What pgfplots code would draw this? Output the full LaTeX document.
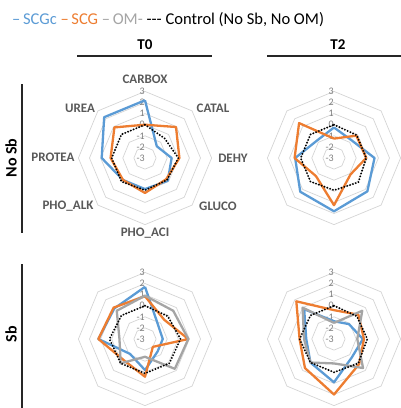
\documentclass[border=0pt]{standalone}
\usepackage{pgfplots}
\pgfplotsset{compat=1.18}
\usepackage{pgfplotstable}
\usepackage{fontspec}
\setmainfont{Carlito}
\definecolor{cblue}{HTML}{5B9BD5}
\definecolor{corange}{HTML}{ED7D31}
\definecolor{cgray}{HTML}{A5A5A5}
\definecolor{gridc}{HTML}{D4D4D4}
\definecolor{labc}{HTML}{595959}
\definecolor{tickc}{HTML}{7F7F7F}

% angle: 0 CARBOX, 45 CATAL, 90 DEHY, 135 GLUCO, 180 PHO_ACI, 225 PHO_ALK, 270 PROTEA, 315 UREA
\pgfplotstableread{
a scgc scg ctl
0 2.2 0.0 0.0
45 -1.5 0.95 -0.5
90 -0.6 0.1 0.0
135 -0.1 -0.3 -0.2
180 -0.2 0.15 -0.1
225 -0.2 -0.2 0.0
270 0.9 0.1 0.0
315 2.2 0.9 0.0
360 2.2 0.0 0.0
}\tTL
\pgfplotstableread{
a scgc scg ctl
0 -0.25 -1.25 0.0
45 -0.75 -0.15 -0.1
90 0.65 -0.1 -0.1
135 1.25 -0.9 0.1
180 1.8 1.25 -0.1
225 1.3 -0.7 0.0
270 0.5 0.55 0.0
315 -0.8 1.45 0.0
360 -0.25 -1.25 0.0
}\tTR
\pgfplotstableread{
a scgc scg om ctl
0 1.7 0.85 0.9 0.0
45 -1.3 -0.55 0.6 -0.1
90 -1.4 0.9 0.9 0.2
135 -1.4 -2.0 0.8 0.1
180 -0.2 0.4 -1.4 0.1
225 -1.1 -0.3 0.1 0.1
270 1.2 1.2 -0.7 0.2
315 0.9 1.0 0.6 0.0
360 1.7 0.85 0.9 0.0
}\tBL
\pgfplotstableread{
a scgc scg om ctl
0 -1.4 -0.4 -1.55 0.0
45 -1.1 0.1 0.6 -0.1
90 -0.4 -0.3 -0.9 0.0
135 -0.7 0.2 0.7 0.1
180 0.9 2.0 -0.8 0.0
225 0.0 0.7 0.0 0.0
270 -0.5 0.1 -0.3 0.1
315 0.8 1.8 1.0 0.0
360 -1.4 -0.4 -1.55 0.0
}\tBR
\pgfplotstableread{
a b
0 0
45 0
90 0
135 0
180 0
225 0
270 0
315 0
360 0
}\octa

\newcommand{\ring}[3]{\addplot[gridc, line width=0.7pt] table[x expr={#1+#3*11.1*sin(\thisrow{a})}, y expr={#2-#3*11.1*cos(\thisrow{a})}]{\octa};}
\newcommand{\rings}[2]{\ring{#1}{#2}{1}\ring{#1}{#2}{2}\ring{#1}{#2}{3}\ring{#1}{#2}{4}\ring{#1}{#2}{5}\ring{#1}{#2}{6}}
\newcommand{\series}[5]{\addplot[#5] table[x expr={#2+(\thisrow{#4}+3)*11.1*sin(\thisrow{a})}, y expr={#3-(\thisrow{#4}+3)*11.1*cos(\thisrow{a})}]{#1};}
\newcommand{\ticks}[2]{%
\node[tick] at (axis cs:#1,#2) [yshift=0pt] {-3};
\node[tick] at (axis cs:#1,#2) [yshift=11.1pt] {-2};
\node[tick] at (axis cs:#1,#2) [yshift=22.2pt] {-1};
\node[tick] at (axis cs:#1,#2) [yshift=33.3pt] {0};
\node[tick] at (axis cs:#1,#2) [yshift=44.4pt] {1};
\node[tick] at (axis cs:#1,#2) [yshift=55.5pt] {2};
\node[tick] at (axis cs:#1,#2) [yshift=66.6pt] {3};}

\tikzset{
 tick/.style={anchor=east, xshift=0pt, inner sep=0pt, text=tickc, font=\fontsize{10}{11}\selectfont},
 cat/.style={text=labc, font=\bfseries\fontsize{13}{14}\selectfont, inner sep=0pt},
 sb/.style={cblue, line width=2.3pt, line join=round},
 sg/.style={corange, line width=2.3pt, line join=round},
 so/.style={cgray, line width=2.3pt, line join=round},
 sc/.style={black, line width=2.1pt, dash pattern=on 0pt off 3pt, line cap=round},
}

\begin{document}
\begin{tikzpicture}
\useasboundingbox (0,0) rectangle (401pt,-408pt);
\begin{axis}[at={(0,0)}, anchor=north west, x=1pt, y=1pt, xmin=0, xmax=401, ymin=0, ymax=408, y dir=reverse, hide axis, clip=false]
% grids
\rings{145}{158}
\rings{334}{158}
\rings{145}{339}
\rings{334}{339}
% tick labels
\ticks{145}{158}
\ticks{334}{158}
\ticks{145}{339}
\ticks{334}{339}
% T0 No Sb
\series{\tTL}{145}{158}{scgc}{sb}
\series{\tTL}{145}{158}{scg}{sg}
\series{\tTL}{145}{158}{ctl}{sc}
% T2 No Sb
\series{\tTR}{334}{158}{scgc}{sb}
\series{\tTR}{334}{158}{scg}{sg}
\series{\tTR}{334}{158}{ctl}{sc}
% T0 Sb
\series{\tBL}{145}{339}{scgc}{sb}
\series{\tBL}{145}{339}{scg}{sg}
\series{\tBL}{145}{339}{om}{so}
\series{\tBL}{145}{339}{ctl}{sc}
% T2 Sb
\series{\tBR}{334}{339}{scgc}{sb}
\series{\tBR}{334}{339}{scg}{sg}
\series{\tBR}{334}{339}{om}{so}
\series{\tBR}{334}{339}{ctl}{sc}
% category labels
\node[cat] at (axis cs:145,79) {CARBOX};
\node[cat] at (axis cs:213,108) {CATAL};
\node[cat] at (axis cs:233,158) {DEHY};
\node[cat] at (axis cs:218,206) {GLUCO};
\node[cat] at (axis cs:145,233) {PHO\_ACI};
\node[cat] at (axis cs:68,206) {PHO\_ALK};
\node[cat] at (axis cs:53,157) {PROTEA};
\node[cat] at (axis cs:80,108) {UREA};
% legend
\node[anchor=west, inner sep=0pt, font=\fontsize{16.5}{18}\selectfont] at (axis cs:12,20) {\textcolor{cblue}{–\,SCGc} \textcolor{corange}{–\,SCG} \textcolor{cgray}{–\,OM-} {-}{-}{-} Control (No Sb, No OM)};
% titles
\node[font=\bfseries\fontsize{15}{16}\selectfont, inner sep=0pt] at (axis cs:145,45) {T0};
\node[font=\bfseries\fontsize{15}{16}\selectfont, inner sep=0pt] at (axis cs:338,45) {T2};
\draw[line width=1.3pt, black!85] (axis cs:77,56) -- (axis cs:212,56);
\draw[line width=1.3pt, black!85] (axis cs:267,56) -- (axis cs:401,56);
% row labels
\node[rotate=90, font=\bfseries\fontsize{16}{17}\selectfont, inner sep=0pt] at (axis cs:11,158) {No Sb};
\node[rotate=90, font=\bfseries\fontsize{16}{17}\selectfont, inner sep=0pt] at (axis cs:11,334) {Sb};
\draw[line width=1.3pt, black!85] (axis cs:22,84) -- (axis cs:22,233);
\draw[line width=1.3pt, black!85] (axis cs:22,264) -- (axis cs:22,410);
\end{axis}
\end{tikzpicture}
\end{document}
